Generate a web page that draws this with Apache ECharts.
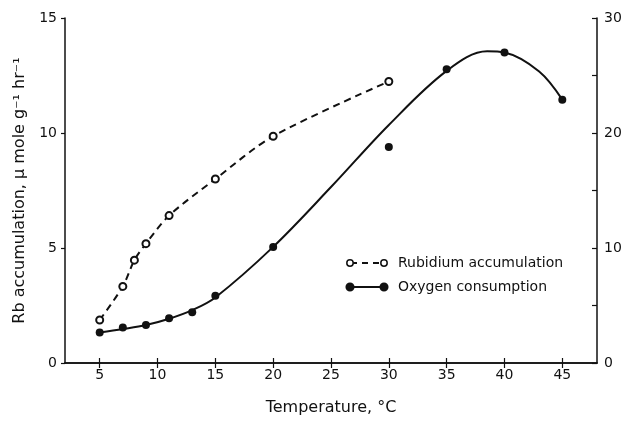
<!DOCTYPE html>
<html>
<head>
<meta charset="utf-8">
<script src="https://cdn.jsdelivr.net/npm/echarts@6/dist/echarts.min.js"></script>
<style>
  html, body { margin: 0; padding: 0; background: #fff; }
  #chart { width: 627px; height: 421px; }
</style>
</head>
<body>
<div id="chart"></div>
<script>
// temperature ticks (°C)
const xTicks = [5, 10, 15, 20, 25, 30, 35, 40, 45];

// Rubidium accumulation, µmole g-1 hr-1 (left axis)
const rbTemp = [5, 7, 8, 9, 11, 15, 20, 30];
const rbValue = [1.87, 3.33, 4.47, 5.19, 6.41, 8.0, 9.86, 12.24];

// Oxygen consumption measured points (right axis)
const o2Temp = [5, 7, 9, 11, 13, 15, 20, 30, 35, 40, 45];
const o2Value = [2.65, 3.08, 3.31, 3.89, 4.41, 5.85, 10.08, 18.78, 25.55, 26.99, 22.9];

// fitted oxygen curve
const o2CurveTemp = [5, 7, 9, 11, 13, 15, 20, 25, 30, 35, 38.5, 40, 43, 45];
const o2CurveValue = [2.65, 2.95, 3.3, 3.85, 4.6, 5.7, 10.1, 15.3, 20.7, 25.4, 27.1, 27.0, 25.35, 22.9];

const FONT = 'DejaVu Sans';
const black = '#111';

const chart = echarts.init(document.getElementById('chart'));

const zip = (xs, ys) => xs.map((x, i) => [x, ys[i]]);

// legend glyph: circle - line - circle
function legendRow(y, label, filled, dashed) {
  const dot = (cx) => ({
    type: 'circle',
    shape: { cx: cx, cy: y, r: filled ? 3.8 : 3.2 },
    style: { fill: filled ? black : '#fff', stroke: black, lineWidth: 1.5 }
  });
  return [
    {
      type: 'line',
      shape: { x1: 351, y1: y, x2: 382, y2: y },
      style: { stroke: black, lineWidth: 2, lineDash: dashed ? [6, 5] : null }
    },
    dot(350), dot(384),
    {
      type: 'text',
      x: 398, y: y,
      style: { text: label, fontFamily: FONT, fontSize: 14, fill: black, verticalAlign: 'middle' }
    }
  ];
}

let option = {
  animation: false,
  textStyle: { fontFamily: FONT, color: black },
  grid: { left: 65, right: 30, top: 18, bottom: 56 },
  graphic: [].concat(
    legendRow(263, 'Rubidium accumulation', false, true),
    legendRow(287, 'Oxygen consumption', true, false)
  ),
  xAxis: [{
    type: 'value',
    min: 2,
    max: 48,
    name: 'Temperature, °C',
    nameLocation: 'middle',
    nameGap: 37,
    nameTextStyle: { fontFamily: FONT, fontSize: 16, color: black },
    axisLine: { lineStyle: { color: black, width: 1.5 } },
    axisTick: { inside: true, length: 5, customValues: xTicks, lineStyle: { color: black, width: 1.2 } },
    axisLabel: { customValues: xTicks, fontFamily: FONT, fontSize: 14, color: black, margin: 5 },
    splitLine: { show: false }
  }, {
    type: 'value',
    position: 'top',
    min: 2,
    max: 48,
    axisLine: { show: true, lineStyle: { color: black, width: 1.5 } },
    axisTick: { inside: true, length: 5, customValues: xTicks, lineStyle: { color: black, width: 1.2 } },
    axisLabel: { show: false },
    splitLine: { show: false }
  }],
  yAxis: [{
    type: 'value',
    min: 0,
    max: 15,
    interval: 5,
    name: 'Rb accumulation, μ mole g⁻¹ hr⁻¹',
    nameLocation: 'middle',
    nameGap: 36,
    nameRotate: 90,
    nameTextStyle: { fontFamily: FONT, fontSize: 16, color: black },
    axisLine: { show: true, lineStyle: { color: black, width: 1.5 } },
    axisTick: { show: true, inside: false, length: 4, lineStyle: { color: black, width: 1.2 } },
    axisLabel: { fontFamily: FONT, fontSize: 14, color: black, margin: 8 },
    splitLine: { show: false }
  }, {
    type: 'value',
    position: 'right',
    min: 0,
    max: 30,
    interval: 5,
    axisLine: { show: true, lineStyle: { color: black, width: 1.5 } },
    axisTick: { show: true, inside: true, length: 5, lineStyle: { color: black, width: 1.2 } },
    axisLabel: {
      fontFamily: FONT, fontSize: 14, color: black, margin: 7,
      formatter: function (v) { return v % 10 === 0 ? String(v) : ''; }
    },
    splitLine: { show: false }
  }],
  series: [{
    name: 'Rubidium accumulation',
    type: 'line',
    xAxisIndex: 0,
    yAxisIndex: 0,
    data: zip(rbTemp, rbValue),
    smooth: 0.3,
    symbol: 'emptyCircle',
    symbolSize: 7,
    showAllSymbol: true,
    lineStyle: { color: black, width: 2, type: [7, 5] },
    itemStyle: { color: black, borderColor: black, borderWidth: 1.5, opacity: 1 },
    z: 3
  }, {
    name: 'Oxygen curve',
    type: 'line',
    xAxisIndex: 0,
    yAxisIndex: 1,
    data: zip(o2CurveTemp, o2CurveValue),
    smooth: 0.35,
    showSymbol: false,
    lineStyle: { color: black, width: 2 },
    z: 2
  }, {
    name: 'Oxygen consumption',
    type: 'scatter',
    xAxisIndex: 0,
    yAxisIndex: 1,
    data: zip(o2Temp, o2Value),
    symbol: 'circle',
    symbolSize: 8,
    itemStyle: { color: black, opacity: 1 },
    z: 4
  }]
};

chart.setOption(option);
</script>
</body>
</html>
